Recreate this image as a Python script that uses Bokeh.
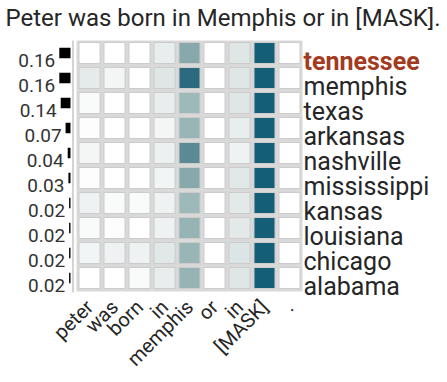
import numpy as np
from bokeh.plotting import figure
from bokeh.models import Range1d, LinearColorMapper, ColumnDataSource
from bokeh.core.properties import value
from bokeh.embed import file_html
from bokeh.resources import INLINE

title_text = "Peter was born in Memphis or in [MASK]."
tokens = ["peter", "was", "born", "in", "memphis", "or", "in", "[MASK]", "."]
words = ["tennessee", "memphis", "texas", "arkansas", "nashville",
         "mississippi", "kansas", "louisiana", "chicago", "alabama"]
probs = [0.16, 0.16, 0.14, 0.07, 0.04, 0.03, 0.02, 0.02, 0.02, 0.02]
prob_labels = ["0.16", "0.16", "0.14", "0.07", "0.04", "0.03", "0.02", "0.02", "0.02", "0.02"]

# attention intensity, rows = predicted words, cols = tokens
attn = [
    [0.00, 0.00, 0.00, 0.08, 0.50, 0.00, 0.12, 1.00, 0.00],
    [0.09, 0.04, 0.00, 0.12, 0.85, 0.00, 0.12, 1.00, 0.00],
    [0.02, 0.00, 0.00, 0.08, 0.42, 0.00, 0.12, 1.00, 0.00],
    [0.01, 0.00, 0.00, 0.04, 0.44, 0.00, 0.08, 1.00, 0.00],
    [0.04, 0.00, 0.00, 0.07, 0.65, 0.00, 0.06, 1.00, 0.00],
    [0.01, 0.00, 0.00, 0.05, 0.50, 0.00, 0.11, 1.00, 0.00],
    [0.06, 0.02, 0.02, 0.06, 0.42, 0.00, 0.10, 1.00, 0.00],
    [0.02, 0.01, 0.00, 0.06, 0.45, 0.00, 0.10, 1.00, 0.00],
    [0.05, 0.06, 0.06, 0.11, 0.44, 0.00, 0.13, 1.00, 0.00],
    [0.00, 0.00, 0.02, 0.08, 0.45, 0.00, 0.12, 1.00, 0.00],
]

# colour ramp anchors
ramp_pos = [0.0, 0.10, 0.45, 0.65, 0.85, 1.0]
ramp_col = ["#ffffff", "#e2e9e9", "#97b4b4", "#5a8a94", "#2c6a80", "#155e78"]


def hex2rgb(h):
    h = h.lstrip("#")
    return np.array([int(h[i:i + 2], 16) for i in (0, 2, 4)], dtype=float)


rgb = np.array([hex2rgb(c) for c in ramp_col])
tt = np.linspace(0, 1, 256)
palette = []
for t in tt:
    r = np.interp(t, ramp_pos, rgb[:, 0])
    g = np.interp(t, ramp_pos, rgb[:, 1])
    b = np.interp(t, ramp_pos, rgb[:, 2])
    palette.append("#%02x%02x%02x" % (int(round(r)), int(round(g)), int(round(b))))
mapper = LinearColorMapper(palette=palette, low=0, high=1)

n_rows = len(words)
n_cols = len(tokens)
A = np.array(attn)
P = np.array(probs)

p = figure(width=447, height=374,
           x_range=Range1d(-3.56, 14.32), y_range=Range1d(12.86, -2.1),
           output_backend="svg", toolbar_location=None, min_border=0)
p.axis.visible = False
p.grid.visible = False
p.outline_line_color = None
p.background_fill_color = "white"
p.border_fill_color = "white"

FONT = value("Roboto")
TXT = "#262626"

# title
p.text(x=[-3.36], y=[-1.42], text=[title_text], text_font=FONT,
       text_font_size="24px", text_color=TXT, text_baseline="alphabetic",
       text_align="left")

# grid background
p.rect(x=[(n_cols - 1) / 2], y=[(n_rows - 1) / 2 + 0.02], width=n_cols + 0.04,
       height=n_rows + 0.04, fill_color="#d9d9d9", line_color=None)

# cells
src = ColumnDataSource(dict(
    x=np.tile(np.arange(n_cols), n_rows),
    y=np.repeat(np.arange(n_rows), n_cols),
    v=A.flatten(),
))
p.rect(x="x", y="y", width=0.84, height=0.84, source=src,
       fill_color={"field": "v", "transform": mapper},
       line_color="#cccccc", line_width=1)

# left separator line
p.segment(x0=[-0.66], y0=[-0.5], x1=[-0.66], y1=[n_rows - 0.42],
          line_color="#d4d4d4", line_width=2)

# probability bars
bar_right = -0.76
bar_scale = 2.8
rows = np.arange(n_rows)
p.hbar(y=rows, left=bar_right - P * bar_scale, right=bar_right, height=0.42,
       fill_color="#000000", line_color=None)

p.text(x=bar_right - P * bar_scale - 0.16, y=rows + 0.31, text=prob_labels,
       text_font=FONT, text_font_size="19px", text_color="#333333",
       text_align="right", text_baseline="alphabetic")

# row word labels
word_colors = ["#a33a1d"] + [TXT] * (n_rows - 1)
word_styles = ["bold"] + ["normal"] * (n_rows - 1)
p.text(x=np.full(n_rows, n_cols - 0.44), y=rows + 0.34, text=words,
       text_font=FONT, text_font_size="25px", text_color=word_colors,
       text_font_style=word_styles, text_align="left", text_baseline="alphabetic")

# token labels (rotated)
cols = np.arange(n_cols)
p.text(x=cols + 0.0, y=np.full(n_cols, n_rows + 0.02), text=tokens,
       text_font=FONT, text_font_size="20px", text_color=TXT,
       text_align="right", text_baseline="middle", angle=np.pi / 4)

open("out.html", "w").write(file_html(p, INLINE))
